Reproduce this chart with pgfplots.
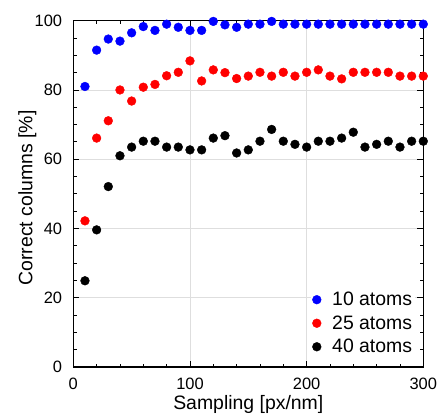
\documentclass[border=0pt]{standalone}
\usepackage{fontspec}
\setmainfont{Liberation Sans}
\usepackage{pgfplots}
\pgfplotsset{compat=1.18}

\pgfplotstableread{
x    a10   a25   a40
10   81.0  42.2  24.9
20   91.5  66.1  39.6
30   94.7  71.1  52.1
40   94.1  80.0  61.0
50   96.5  76.8  63.5
60   98.3  80.8  65.2
70   97.2  81.6  65.2
80   99.0  84.1  63.5
90   98.1  85.1  63.5
100  97.2  88.4  62.7
110  97.2  82.6  62.7
120  99.8  85.8  66.1
130  98.8  85.0  66.8
140  98.1  83.3  61.8
150  99.0  84.0  62.7
160  99.0  85.1  65.2
170  99.8  84.0  68.6
180  99.0  85.1  65.2
190  99.0  84.0  64.3
200  99.0  85.1  63.5
210  99.0  85.8  65.2
220  99.0  84.0  65.2
230  99.0  83.2  66.1
240  99.0  85.1  67.8
250  99.0  85.1  63.5
260  99.0  85.1  64.3
270  99.0  85.1  65.2
280  99.0  84.0  63.5
290  99.0  84.0  65.2
300  99.0  84.0  65.2
}\sampling

\begin{document}
\begin{tikzpicture}
\begin{axis}[
  scale only axis, width=350bp, height=346.3bp,
  xmin=0, xmax=300, ymin=0, ymax=100,
  xtick={0,100,200,300}, ytick={0,20,...,100},
  minor x tick num=4, minor y tick num=3,
  tick align=inside, major tick length=6bp, minor tick length=3.5bp,
  grid=major, grid style={draw=black!13, line width=0.8bp},
  axis line style={line width=1.3bp},
  every tick/.style={black, line width=0.9bp},
  /pgf/number format/assume math mode=true,
  tick label style={font=\fontsize{16.5}{19}\selectfont, inner sep=0pt},
  xticklabel style={anchor=north, yshift=-11bp},
  yticklabel style={anchor=east, xshift=-11bp},
  label style={font=\fontsize{19.5}{23}\selectfont},
  xlabel={Sampling [px/nm]}, ylabel={Correct columns [\%]},
  xlabel style={at={(axis description cs:0.5,0)}, anchor=base, yshift=-42bp},
  ylabel style={at={(axis description cs:0,0.488)}, anchor=base, yshift=41bp},
  legend style={at={(1,0)}, anchor=south east, xshift=-8bp, yshift=9.5bp,
                draw=none, fill=white, font=\fontsize{19.5}{23}\selectfont,
                inner sep=1bp, row sep=4.5bp, column sep=9bp},
  legend cell align=left,
  mark size=4.4bp,
]
\addplot[only marks, mark=*, color=blue] table[x=x, y=a10] {\sampling};
\addplot[only marks, mark=*, color=red] table[x=x, y=a25] {\sampling};
\addplot[only marks, mark=*, color=black] table[x=x, y=a40] {\sampling};
\legend{10 atoms, 25 atoms, 40 atoms}
\end{axis}
\pgfresetboundingbox
\path ([shift={(-73.3bp,-50bp)}]current axis.south west)
  rectangle ([shift={(13.7bp,20.7bp)}]current axis.north east);
\end{tikzpicture}
\end{document}
